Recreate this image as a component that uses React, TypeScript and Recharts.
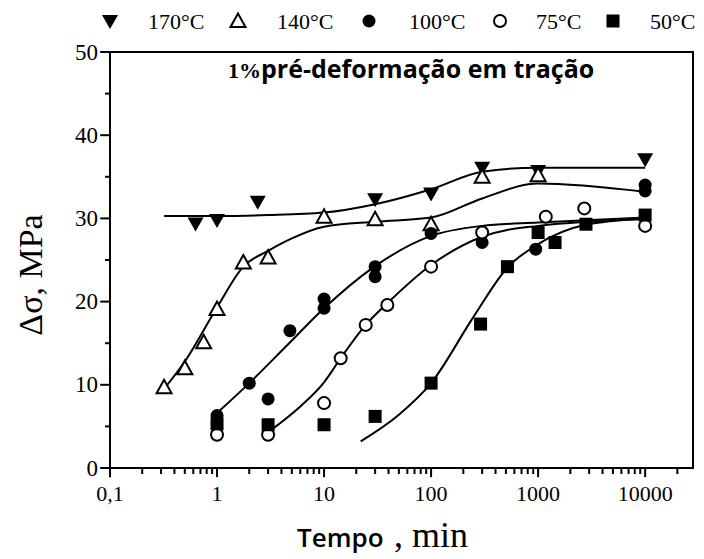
import React from 'react';
import { ComposedChart, Line, Scatter, XAxis, YAxis, ReferenceArea, ReferenceLine, Legend, Customized } from 'recharts';

// ---------- Data ----------
const xMajorTicks = [0.1, 1, 10, 100, 1000, 10000];
const xMajorLabels = ['0,1', '1', '10', '100', '1000', '10000'];
const xMinorTicks = [
  0.2, 0.3, 0.4, 0.5, 0.6, 0.7, 0.8, 0.9,
  2, 3, 4, 5, 6, 7, 8, 9,
  20, 30, 40, 50, 60, 70, 80, 90,
  200, 300, 400, 500, 600, 700, 800, 900,
  2000, 3000, 4000, 5000, 6000, 7000, 8000, 9000,
  20000,
];
const yMajorTicks = [0, 10, 20, 30, 40, 50];
const yMinorTicks = [5, 15, 25, 35, 45];

const legendLabels = ['170°C', '140°C', '100°C', '75°C', '50°C'];
const annotationPrefix = '1%';
const annotationText = 'pré-deformação em tração';

// fitted curves (t in min, v in MPa)
const curve170 = [
  { t: 0.32, v: 30.3 }, { t: 1, v: 30.3 }, { t: 3, v: 30.4 }, { t: 10, v: 30.7 },
  { t: 30, v: 31.7 }, { t: 100, v: 33.5 }, { t: 300, v: 35.6 }, { t: 1000, v: 36.1 }, { t: 10000, v: 36.1 },
];
const curve140 = [
  { t: 0.32, v: 9.5 }, { t: 0.5, v: 12.8 }, { t: 1, v: 19.3 }, { t: 1.76, v: 24.2 }, { t: 3, v: 26.1 },
  { t: 5, v: 27.6 }, { t: 10, v: 29.0 }, { t: 30, v: 29.6 }, { t: 100, v: 30.1 }, { t: 300, v: 32.4 },
  { t: 1000, v: 34.2 }, { t: 10000, v: 33.2 },
];
const curve100 = [
  { t: 1, v: 6.6 }, { t: 2, v: 10.2 }, { t: 4.4, v: 14.6 }, { t: 10, v: 19.2 }, { t: 28, v: 24 },
  { t: 100, v: 27.9 }, { t: 300, v: 29.1 }, { t: 1000, v: 29.5 }, { t: 10000, v: 30.1 },
];
const curve75 = [
  { t: 3.3, v: 4.7 }, { t: 6, v: 7.4 }, { t: 10, v: 10.3 }, { t: 14.3, v: 13.2 }, { t: 24.5, v: 17.2 },
  { t: 39, v: 19.8 }, { t: 100, v: 24.4 }, { t: 300, v: 27.8 }, { t: 1000, v: 29.1 }, { t: 10000, v: 29.9 },
];
const curve50 = [
  { t: 22, v: 3.2 }, { t: 50, v: 6.4 }, { t: 100, v: 10.2 }, { t: 250, v: 18.2 }, { t: 517, v: 24.1 },
  { t: 1000, v: 26.9 }, { t: 2700, v: 29.2 }, { t: 10000, v: 30.0 },
];

// measured points
const pts170 = [
  { t: 0.63, v: 29.4 }, { t: 1, v: 29.8 }, { t: 2.4, v: 32.0 }, { t: 30, v: 32.3 }, { t: 100, v: 33.0 },
  { t: 300, v: 36.1 }, { t: 1000, v: 35.7 }, { t: 10000, v: 37.1 },
];
const pts140 = [
  { t: 0.32, v: 9.7 }, { t: 0.5, v: 12.0 }, { t: 0.75, v: 15.1 }, { t: 1, v: 19.1 }, { t: 1.76, v: 24.7 },
  { t: 3, v: 25.3 }, { t: 10, v: 30.2 }, { t: 30, v: 29.9 }, { t: 100, v: 29.3 }, { t: 300, v: 35.0 },
  { t: 1000, v: 35.2 },
];
const pts100 = [
  { t: 1, v: 6.3 }, { t: 2, v: 10.2 }, { t: 3, v: 8.3 }, { t: 4.8, v: 16.5 }, { t: 10, v: 20.3 },
  { t: 10, v: 19.2 }, { t: 30, v: 24.2 }, { t: 30, v: 23.0 }, { t: 100, v: 28.2 }, { t: 300, v: 27.1 },
  { t: 950, v: 26.3 }, { t: 10000, v: 33.3 }, { t: 10000, v: 34.0 },
];
const pts75 = [
  { t: 1, v: 4.0 }, { t: 3, v: 4.0 }, { t: 10, v: 7.8 }, { t: 14.3, v: 13.2 }, { t: 24.5, v: 17.2 },
  { t: 39, v: 19.6 }, { t: 100, v: 24.2 }, { t: 300, v: 28.3 }, { t: 1180, v: 30.2 }, { t: 2700, v: 31.2 },
  { t: 10000, v: 29.1 },
];
const pts50 = [
  { t: 1, v: 5.3 }, { t: 3, v: 5.2 }, { t: 10, v: 5.2 }, { t: 30, v: 6.2 }, { t: 100, v: 10.2 },
  { t: 290, v: 17.3 }, { t: 517, v: 24.2 }, { t: 1000, v: 28.3 }, { t: 1440, v: 27.1 }, { t: 2800, v: 29.3 },
  { t: 10000, v: 30.4 },
];

const xTicks = [...xMajorTicks, ...xMinorTicks];
const yTicks = [...yMajorTicks, ...yMinorTicks];

// axis limits and tick-mark extents (in data units, just outside the plot)
const X_MIN = 0.1;
const X_MAX = 28000;
const Y_MIN = 0;
const Y_MAX = 50;
const X_TICK_END_MAJOR = -1.1; // below y = 0
const X_TICK_END_MINOR = -0.72;
const Y_TICK_END_MAJOR = 0.081; // left of x = 0.1
const Y_TICK_END_MINOR = 0.09;

// ---------- Rendering ----------
const SERIF = '"Liberation Serif", "Times New Roman", serif';
const SANS = '"Open Sans", "Noto Sans", sans-serif';

type Kind = 'tdown' | 'tup' | 'dot' | 'ring' | 'square';
const kinds: Kind[] = ['tdown', 'tup', 'dot', 'ring', 'square'];

const Marker = ({ kind, cx, cy }: { kind: Kind; cx: number; cy: number }) => {
  if (cx == null || cy == null) return null;
  switch (kind) {
    case 'tdown':
      return <path d={`M${cx - 8},${cy - 6} L${cx + 8},${cy - 6} L${cx},${cy + 8} Z`} fill="#000" />;
    case 'tup':
      return (
        <path d={`M${cx - 7.5},${cy + 6} L${cx + 7.5},${cy + 6} L${cx},${cy - 7.5} Z`}
          fill="#fff" stroke="#000" strokeWidth={2} strokeLinejoin="miter" />
      );
    case 'dot':
      return <circle cx={cx} cy={cy} r={6.5} fill="#000" />;
    case 'ring':
      return <circle cx={cx} cy={cy} r={6} fill="#fff" stroke="#000" strokeWidth={2} />;
    case 'square':
    default:
      return <rect x={cx - 6.5} y={cy - 6.5} width={13} height={13} fill="#000" />;
  }
};

const XTick = (props: any) => {
  const x = Number(props.x);
  const y = Number(props.y);
  const idx = xMajorTicks.indexOf(props.payload.value);
  if (idx < 0) return null;
  return (
    <text x={x} y={y + 25} textAnchor="middle" fontFamily={SERIF} fontSize={22} fill="#000">
      {xMajorLabels[idx]}
    </text>
  );
};

const YTick = (props: any) => {
  const x = Number(props.x);
  const y = Number(props.y);
  const v = props.payload.value;
  if (!yMajorTicks.includes(v)) return null;
  return (
    <text x={x - 4} y={y + 7.5} textAnchor="end" fontFamily={SERIF} fontSize={23} fill="#000">
      {v}
    </text>
  );
};

const legendSymbolX = [110, 238, 369, 500, 613];
const legendTextX = [148, 277, 409, 536, 650];

const LegendContent = () => (
  <svg width={704} height={40} style={{ display: 'block' }}>
    {kinds.map((k, i) => (
      <g key={k}>
        <Marker kind={k} cx={legendSymbolX[i]} cy={21} />
        <text x={legendTextX[i]} y={29} fontFamily={SERIF} fontSize={22} fill="#000">
          {legendLabels[i]}
        </text>
      </g>
    ))}
  </svg>
);

const Annotation = () => (
  <text x={228} y={78} fill="#000">
    <tspan fontFamily={SERIF} fontWeight="bold" fontSize={22}>{annotationPrefix}</tspan>
    <tspan fontFamily={SANS} fontWeight="bold" fontSize={25}>{annotationText}</tspan>
  </text>
);

const AxisTitles = () => (
  <g>
    <text transform="translate(42,275) rotate(-90)" textAnchor="middle" fontFamily={SERIF} fontSize={34} fill="#000">
      Δσ, MPa
    </text>
    <text x={297} y={547} fontFamily={SANS} fontWeight={600} fontSize={26} fill="#000">
      Tempo
    </text>
    <text x={394} y={547} fontFamily={SERIF} fontSize={36} fill="#000">
      , min
    </text>
  </g>
);

const curves = [curve170, curve140, curve100, curve75, curve50];
const points = [pts170, pts140, pts100, pts75, pts50];

export default function App() {
  return (
    <div style={{ position: 'absolute', left: 0, top: 0, background: '#fff' }}>
      <ComposedChart width={704} height={559} margin={{ top: 12, right: 11, bottom: 31, left: 50 }}>
        <XAxis
          dataKey="t"
          type="number"
          scale="log"
          domain={[X_MIN, X_MAX]}
          allowDataOverflow
          ticks={xTicks}
          interval={0}
          tick={<XTick />}
          tickLine={false}
          tickSize={8}
          tickMargin={0}
          height={60}
          axisLine={{ stroke: '#000', strokeWidth: 2 }}
        />
        <YAxis
          dataKey="v"
          type="number"
          domain={[Y_MIN, Y_MAX]}
          allowDataOverflow
          ticks={yTicks}
          interval={0}
          tick={<YTick />}
          tickLine={false}
          tickSize={8}
          tickMargin={0}
          width={60}
          axisLine={{ stroke: '#000', strokeWidth: 2 }}
        />
        <ReferenceArea x1={X_MIN} x2={X_MAX} y1={Y_MIN} y2={Y_MAX} fill="none" stroke="#000" strokeWidth={2} fillOpacity={0} />
        {xTicks.map((v) => (
          <ReferenceLine
            key={'xt' + v}
            segment={[{ x: v, y: Y_MIN }, { x: v, y: xMajorTicks.includes(v) ? X_TICK_END_MAJOR : X_TICK_END_MINOR }]}
            stroke="#000"
            strokeWidth={2}
            ifOverflow="visible"
          />
        ))}
        {yTicks.map((v) => (
          <ReferenceLine
            key={'yt' + v}
            segment={[{ x: yMajorTicks.includes(v) ? Y_TICK_END_MAJOR : Y_TICK_END_MINOR, y: v }, { x: X_MIN, y: v }]}
            stroke="#000"
            strokeWidth={2}
            ifOverflow="visible"
          />
        ))}
        {curves.map((c, i) => (
          <Line
            key={'c' + i}
            data={c}
            dataKey="v"
            type="monotone"
            stroke="#000"
            strokeWidth={2}
            dot={false}
            activeDot={false}
            isAnimationActive={false}
            legendType="none"
          />
        ))}
        {points.map((p, i) => (
          <Scatter
            key={'s' + i}
            name={legendLabels[i]}
            data={p}
            dataKey="v"
            isAnimationActive={false}
            shape={(props: any) => <Marker kind={kinds[i]} cx={props.cx} cy={props.cy} />}
          />
        ))}
        <Legend verticalAlign="top" height={40} wrapperStyle={{ top: 0, left: 0, width: 704, height: 40, lineHeight: 0 }} content={<LegendContent />} />
        <Customized component={<Annotation />} />
        <Customized component={<AxisTitles />} />
      </ComposedChart>
    </div>
  );
}
